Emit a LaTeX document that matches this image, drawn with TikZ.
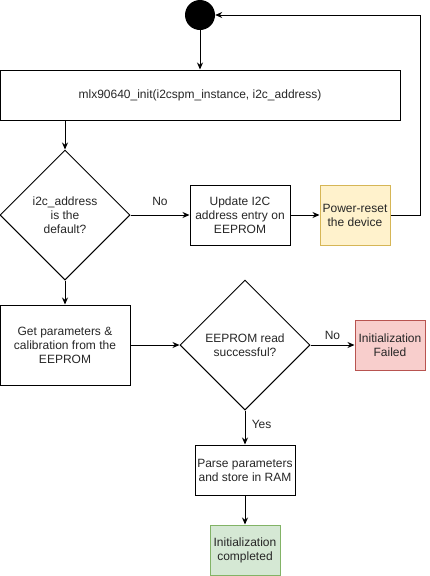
\documentclass[tikz,border=0pt]{standalone}
\usepackage{fontspec}
\setmainfont{Liberation Sans}
\usetikzlibrary{shapes.geometric, positioning, arrows.meta}

\definecolor{warnfill}{HTML}{FFF2CC}
\definecolor{warnline}{HTML}{D6B656}
\definecolor{failfill}{HTML}{F8CECC}
\definecolor{failline}{HTML}{B85450}
\definecolor{okfill}{HTML}{D5E8D4}
\definecolor{okline}{HTML}{82B366}

\tikzset{
    process/.style={draw, line width=1pt, align=center, inner sep=2pt},
    decision/.style={draw, diamond, aspect=1, line width=1pt, align=center,
        minimum width=130pt, minimum height=130pt, inner sep=0pt},
    flow/.style={line width=1pt, -{Stealth[length=7pt,width=6pt]}}
}

\begin{document}
\begin{tikzpicture}[x=1pt, y=-1pt, node distance=3cm, on grid, font=\fontsize{12}{14}\selectfont, text=black!85]
        \useasboundingbox (0,0) rectangle (429,576);
        % Define the nodes
        \node[circle, fill=black, minimum size=30pt, inner sep=0pt] (start) at (200,15) {};
        \node[process, minimum width=400pt, minimum height=50pt] (init) at (200,95) {mlx90640\_init(i2cspm\_instance, i2c\_address)};
        \node[decision] (d_addr) at (65,215) {i2c\_address\\is the\\default?};
        \node[process, minimum width=100pt, minimum height=60pt] (update) [right=175pt of d_addr] {Update I2C\\address entry on\\EEPROM};
        \node[process, draw=warnline, fill=warnfill, minimum width=70pt, minimum height=60pt] (reset) [right=115pt of update] {Power-reset\\the device};
        \node[process, minimum width=130pt, minimum height=80pt] (get) [below=130pt of d_addr] {Get parameters \&\\calibration from the\\EEPROM};
        \node[decision] (d_read) [right=180pt of get] {EEPROM read\\successful?};
        \node[process, draw=failline, fill=failfill, minimum width=70pt, minimum height=50pt] (failed) [right=145pt of d_read] {Initialization\\Failed};
        \node[process, minimum width=100pt, minimum height=50pt] (parse) [below=125pt of d_read] {Parse parameters\\and store in RAM};
        \node[process, draw=okline, fill=okfill, minimum width=70pt, minimum height=50pt] (done) [below=80pt of parse] {Initialization\\completed};
        % Define the transitions
        \draw[flow] (start) -- (init);
        \draw[flow] (init.south -| d_addr) -- (d_addr.north);
        \draw[flow] (d_addr.east) -- node[above=6pt] {No} (update.west);
        \draw[flow] (update) -- (reset);
        \draw[flow] (reset.east) -- ++(30,0) |- (start.east);
        \draw[flow] (d_addr.south) -- (get.north);
        \draw[flow] (get.east) -- (d_read.west);
        \draw[flow] (d_read.east) -- node[above=2pt] {No} (failed.west);
        \draw[flow] (d_read.south) -- node[right=3pt, yshift=3pt] {Yes} (parse.north);
        \draw[flow] (parse) -- (done);
    \end{tikzpicture}
\end{document}
